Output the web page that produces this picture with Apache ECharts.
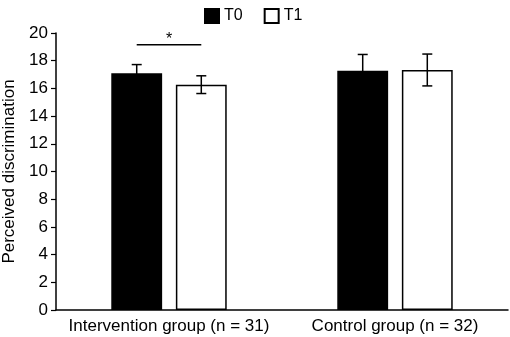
<!DOCTYPE html>
<html>
<head>
<meta charset="utf-8">
<script src="https://cdn.jsdelivr.net/npm/echarts@6/dist/echarts.min.js"></script>
<style>
  html, body { margin: 0; padding: 0; background: #fff; }
  #chart { width: 510px; height: 337px; }
</style>
</head>
<body>
<div id="chart"></div>
<script>
var categories = ['Intervention group (n = 31)', 'Control group (n = 32)'];
var t0Values = [17.1, 17.28];
var t0Errors = [0.62, 1.17];
var t1Values = [16.27, 17.33];
var t1Errors = [0.64, 1.15];
var sigLevel = 19.15; // the bracket above the intervention group
var sigGroup = 0;

var chart = echarts.init(document.getElementById('chart'));
var FONT = 'Liberation Sans, Arial, sans-serif';
var BAR_W = 0.225, BAR_GAP = 0.27;

function offsetOf(api, idx) {
  var band = api.size([1, 0])[0];
  var bw = band * BAR_W;
  return (idx === 0 ? -1 : 1) * bw * (1 + BAR_GAP) / 2;
}

function errorSeries(values, errors, idx) {
  return {
    type: 'custom',
    z: 5,
    data: values.map(function (v, i) { return [i, v, errors[i]]; }),
    renderItem: function (params, api) {
      var x = api.value(0), v = api.value(1), e = api.value(2);
      var top = api.coord([x, v + e]);
      var bot = api.coord([x, v - e]);
      var cx = top[0] + offsetOf(api, idx);
      var cap = 5;
      var st = { stroke: '#000', lineWidth: 1.5 };
      return {
        type: 'group',
        children: [
          { type: 'line', shape: { x1: cx, y1: top[1], x2: cx, y2: bot[1] }, style: st },
          { type: 'line', shape: { x1: cx - cap, y1: top[1], x2: cx + cap, y2: top[1] }, style: st },
          { type: 'line', shape: { x1: cx - cap, y1: bot[1], x2: cx + cap, y2: bot[1] }, style: st }
        ]
      };
    }
  };
}

var option = {
  animation: false,
  legend: {
    data: [
      { name: 'T0', icon: 'rect' },
      { name: 'T1', icon: 'rect' }
    ],
    left: 199,
    top: 3,
    itemWidth: 14,
    itemHeight: 14,
    itemGap: 21,
    textStyle: { fontFamily: FONT, fontSize: 16, color: '#000' }
  },
  grid: { left: 56, right: 2, top: 33, bottom: 27, containLabel: false, outerBoundsMode: 'none' },
  xAxis: {
    type: 'category',
    data: categories,
    axisLine: { lineStyle: { color: '#000', width: 1.5 } },
    axisTick: { show: false },
    axisLabel: { interval: 0, fontFamily: FONT, fontSize: 17, color: '#000', margin: 8 }
  },
  yAxis: {
    type: 'value',
    min: 0,
    max: 20,
    interval: 2,
    name: 'Perceived discrimination',
    nameLocation: 'middle',
    nameGap: 38,
    nameTextStyle: { fontFamily: FONT, fontSize: 17, color: '#000' },
    axisLine: { show: true, lineStyle: { color: '#000', width: 1.5 } },
    axisTick: { show: true, length: 5, lineStyle: { color: '#000', width: 1.2 } },
    axisLabel: { fontFamily: FONT, fontSize: 17, color: '#000', margin: 8 },
    splitLine: { show: false }
  },
  series: [
    {
      name: 'T0',
      type: 'bar',
      data: t0Values,
      barWidth: (BAR_W * 100) + '%',
      barGap: (BAR_GAP * 100) + '%',
      itemStyle: { color: '#000', borderColor: '#000', borderWidth: 1.5 }
    },
    {
      name: 'T1',
      type: 'bar',
      data: t1Values,
      barWidth: (BAR_W * 100) + '%',
      itemStyle: { color: '#fff', borderColor: '#000', borderWidth: 1.5 }
    },
    errorSeries(t0Values, t0Errors, 0),
    errorSeries(t1Values, t1Errors, 1),
    {
      type: 'custom',
      z: 6,
      data: [[sigGroup, sigLevel]],
      renderItem: function (params, api) {
        var p = api.coord([api.value(0), api.value(1)]);
        var x1 = p[0] + offsetOf(api, 0), x2 = p[0] + offsetOf(api, 1);
        return {
          type: 'group',
          children: [
            { type: 'line', shape: { x1: x1, y1: p[1], x2: x2, y2: p[1] }, style: { stroke: '#000', lineWidth: 1.5 } },
            { type: 'text', style: { x: (x1 + x2) / 2, y: p[1] - 5, text: '*', textAlign: 'center', textVerticalAlign: 'middle', fontFamily: FONT, fontSize: 16, fill: '#000' } }
          ]
        };
      }
    }
  ]
};
chart.setOption(option);
</script>
</body>
</html>
